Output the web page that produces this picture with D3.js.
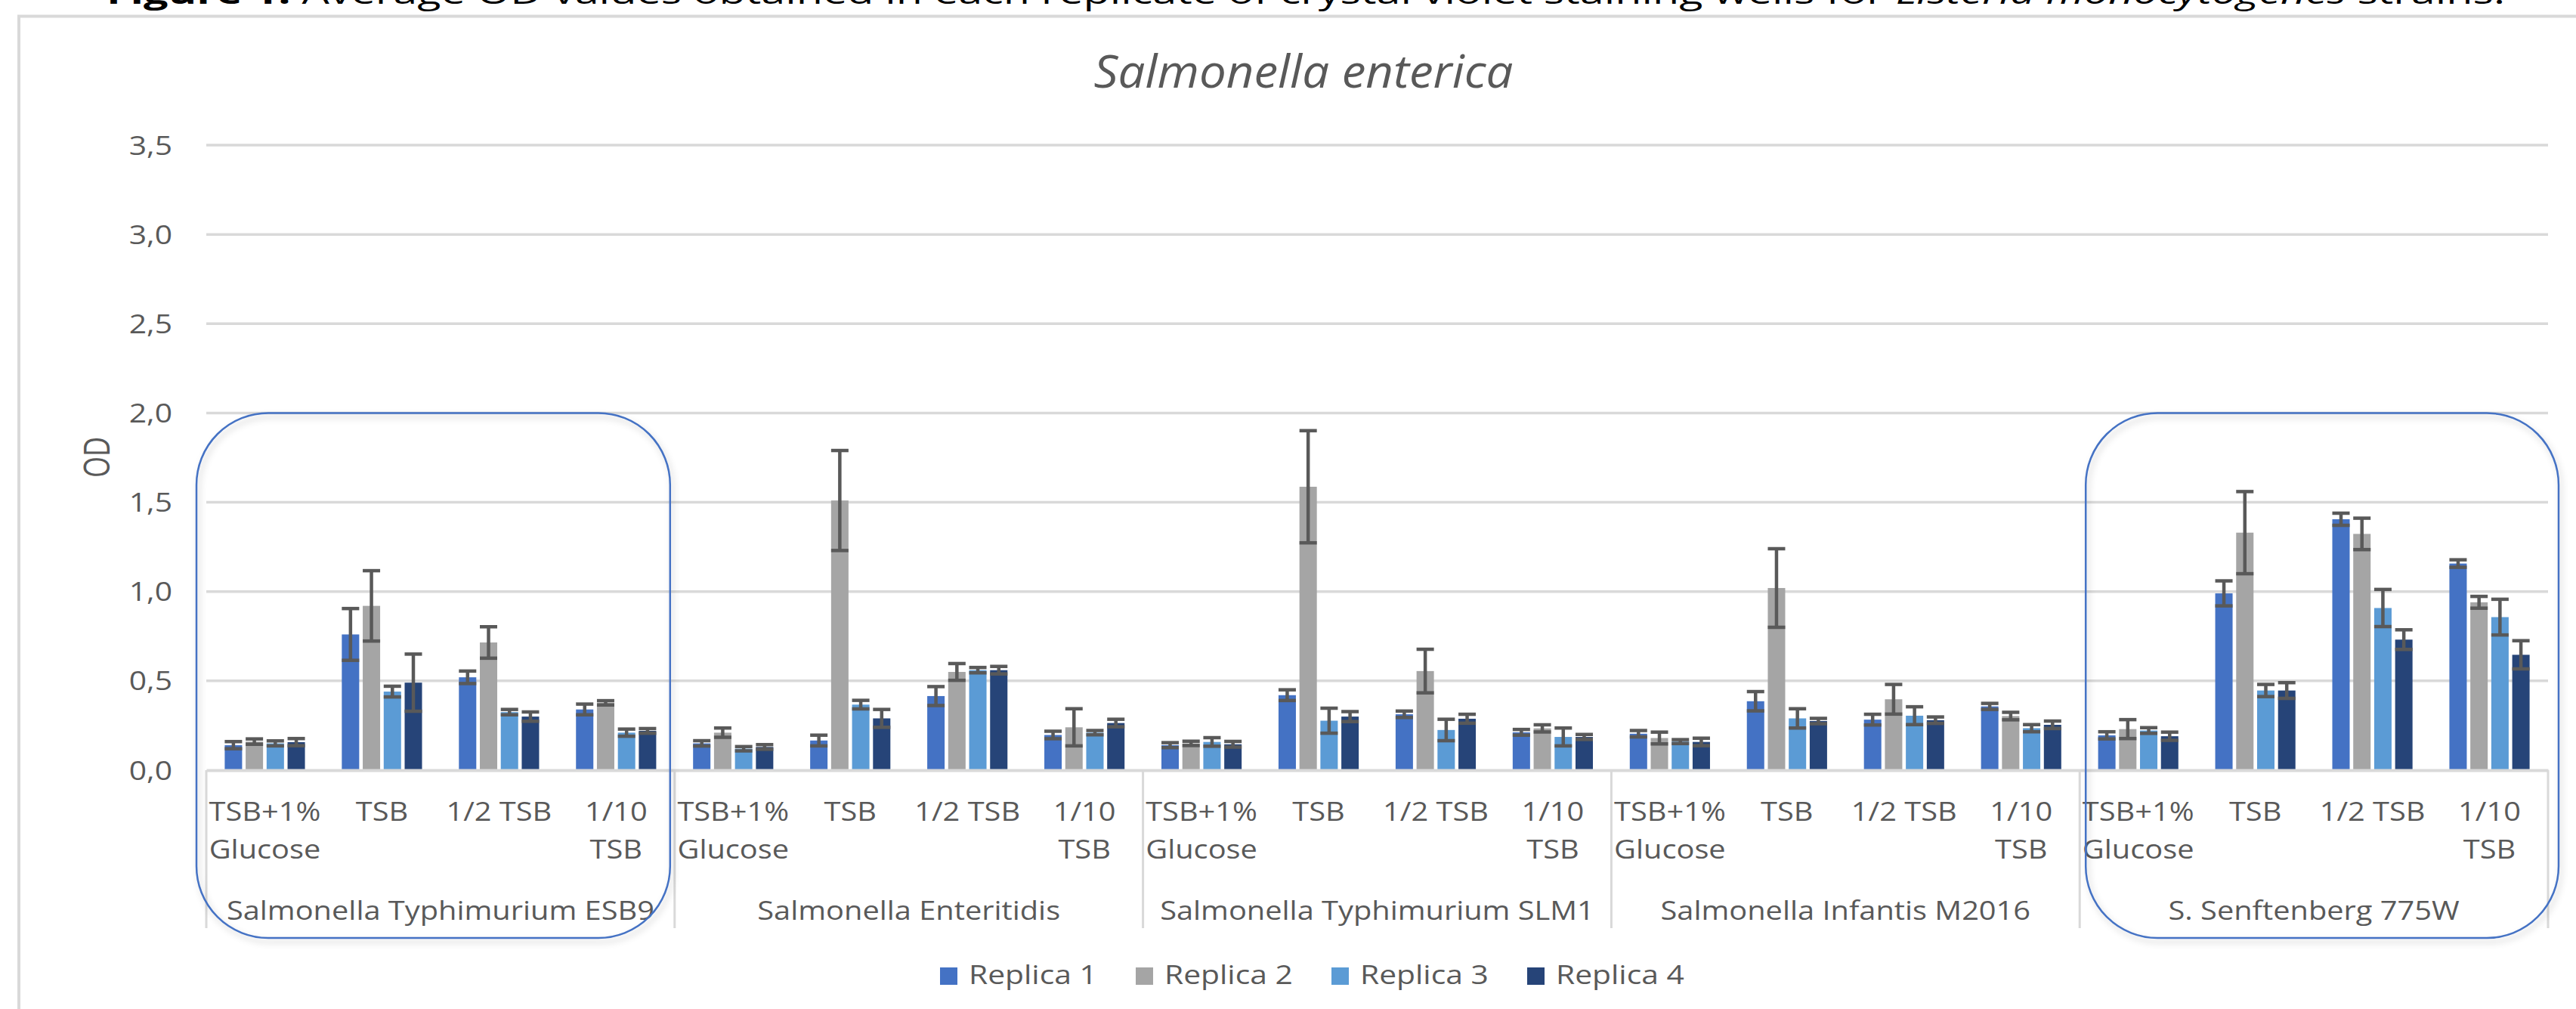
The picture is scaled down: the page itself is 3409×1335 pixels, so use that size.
<!DOCTYPE html>
<html>
<head>
<meta charset="utf-8">
<script src="https://cdn.jsdelivr.net/npm/d3@7"></script>
<style>
  html, body { margin: 0; padding: 0; background: #ffffff; }
  svg { display: block; }
  text { font-family: "Open Sans", "Noto Sans", sans-serif; }
</style>
</head>
<body>
<svg id="chart" width="3409" height="1335"></svg>
<script>
// ---- data -------------------------------------------------------------
const strains = [
  "Salmonella Typhimurium ESB9",
  "Salmonella Enteritidis",
  "Salmonella Typhimurium SLM1",
  "Salmonella Infantis M2016",
  "S. Senftenberg 775W"
];
// each medium label split into its wrapped lines
const media = [["TSB+1%", "Glucose"], ["TSB"], ["1/2 TSB"], ["1/10", "TSB"]];
const replicas = ["Replica 1", "Replica 2", "Replica 3", "Replica 4"];
const replicaColors = ["#4472C4", "#A5A5A5", "#5B9BD5", "#264478"];
const yTicks = [0, 0.5, 1, 1.5, 2, 2.5, 3, 3.5];

// mean OD, 4 media per strain, strains in order
const replica1 = [0.14, 0.76, 0.52, 0.34,   0.15, 0.166, 0.415, 0.197,  0.14, 0.42, 0.313, 0.212,  0.204, 0.386, 0.283, 0.357,  0.195, 0.99, 1.405, 1.157];
const replica2 = [0.16, 0.92, 0.715, 0.377, 0.21, 1.51, 0.55, 0.24,     0.15, 1.587, 0.555, 0.234,  0.18, 1.02, 0.397, 0.303,    0.23, 1.33, 1.323, 0.94];
const replica3 = [0.15, 0.44, 0.325, 0.21,  0.12, 0.367, 0.56, 0.21,    0.158, 0.277, 0.225, 0.186, 0.16, 0.29, 0.305, 0.235,    0.222, 0.446, 0.908, 0.857];
const replica4 = [0.157, 0.49, 0.30, 0.22,  0.13, 0.29, 0.56, 0.264,    0.145, 0.30, 0.288, 0.186,  0.158, 0.275, 0.28, 0.254,   0.19, 0.446, 0.731, 0.646];
// standard deviations
const err1 = [0.02, 0.145, 0.035, 0.03,   0.015, 0.03, 0.053, 0.021,   0.014, 0.03, 0.018, 0.016,   0.018, 0.054, 0.03, 0.017,   0.02, 0.07, 0.034, 0.021];
const err2 = [0.015, 0.197, 0.088, 0.012, 0.026, 0.28, 0.047, 0.104,   0.012, 0.314, 0.122, 0.02,   0.033, 0.22, 0.083, 0.021,   0.053, 0.23, 0.088, 0.033];
const err3 = [0.014, 0.03, 0.015, 0.02,   0.012, 0.024, 0.015, 0.012,  0.024, 0.07, 0.06, 0.05,     0.011, 0.054, 0.05, 0.02,    0.016, 0.034, 0.104, 0.1];
const err4 = [0.02, 0.16, 0.026, 0.013,   0.013, 0.05, 0.021, 0.021,   0.016, 0.028, 0.025, 0.014,  0.021, 0.015, 0.018, 0.021,  0.023, 0.044, 0.055, 0.079];

const means = [replica1, replica2, replica3, replica4];
const errs = [err1, err2, err3, err4];

// strains highlighted with a rounded frame
const highlighted = [0, 4];

// ---- layout -----------------------------------------------------------
const svg = d3.select("#chart");
const W = 3409, H = 1335;
const plot = { left: 273, right: 3372, top: 192, bottom: 1019 };
const grey = "#595959";
const gridGrey = "#D9D9D9";

// horizontal stretch used for all labels
function placeText(sel, x, y, sx) {
  sel.attr("x", 0).attr("y", 0)
     .attr("transform", `translate(${x},${y}) scale(${sx},1)`);
  return sel;
}

const defs = svg.append("defs");
const shadow = defs.append("filter").attr("id", "soft").attr("x", "-10%").attr("y", "-10%")
  .attr("width", "120%").attr("height", "120%");
shadow.append("feDropShadow").attr("dx", 3).attr("dy", 5).attr("stdDeviation", 4)
  .attr("flood-color", "#000").attr("flood-opacity", 0.22);

svg.append("rect").attr("width", W).attr("height", H).attr("fill", "#fff");

// caption line of the surrounding document (cut by the top edge)
const cap = svg.append("text").attr("x", 141).attr("y", 5)
  .attr("font-size", 40).attr("fill", "#000")
  .attr("textLength", 3174).attr("lengthAdjust", "spacingAndGlyphs");
cap.append("tspan").attr("font-weight", "bold").text("Figure 1.");
cap.append("tspan").text(" Average OD values obtained in each replicate of crystal violet staining wells for ");
cap.append("tspan").attr("font-style", "italic").text("Listeria monocytogenes");
cap.append("tspan").text(" strains.");

// chart area border
svg.append("path").attr("d", `M25,${H} V21.5 H${W}`)
  .attr("fill", "none").attr("stroke", gridGrey).attr("stroke-width", 4);

// ---- scales -----------------------------------------------------------
const catKeys = [];
strains.forEach((s, i) => media.forEach((m, j) => catKeys.push(i * 4 + j)));

const x = d3.scaleBand().domain(catKeys).range([plot.left, plot.right]).padding(0);
const xr = d3.scaleBand().domain(d3.range(4)).range([0, x.bandwidth()])
  .paddingInner(0.17).paddingOuter(0.88);
const y = d3.scaleLinear().domain([0, 3.5]).range([plot.bottom, plot.top]);

// ---- grid ---------------------------------------------------------------
svg.append("g").selectAll("line").data(yTicks.filter(d => d > 0)).join("line")
  .attr("x1", plot.left).attr("x2", plot.right)
  .attr("y1", d => y(d)).attr("y2", d => y(d))
  .attr("stroke", gridGrey).attr("stroke-width", 3.5);

// ---- y axis -------------------------------------------------------------
const yAxis = svg.append("g").attr("transform", `translate(${plot.left},0)`)
  .call(d3.axisLeft(y).tickValues(yTicks).tickSize(0)
    .tickFormat(d => d.toFixed(1).replace(".", ",")));
yAxis.select(".domain").remove();
yAxis.selectAll(".tick text").each(function () {
  const t = d3.select(this);
  t.attr("dy", null).attr("text-anchor", "end")
   .attr("font-size", 34).attr("fill", grey)
   .attr("font-family", "Open Sans");
  placeText(t, -45, 12, 1.2);
});

// axis title
svg.append("text").attr("text-anchor", "middle").attr("dominant-baseline", "central")
  .attr("font-size", 36).attr("fill", grey)
  .attr("transform", "translate(127,605) scale(1.3,1) rotate(-90)")
  .text("OD");

// chart title
placeText(svg.append("text").attr("text-anchor", "middle")
  .attr("font-size", 60).attr("font-style", "italic").attr("fill", grey)
  .text("Salmonella enterica"), 1725, 116, 1.06);

// ---- bars ---------------------------------------------------------------
const rows = [];
catKeys.forEach(k => replicas.forEach((r, ri) =>
  rows.push({ k, ri, v: means[ri][k], e: errs[ri][k] })));

svg.append("g").selectAll("rect").data(rows).join("rect")
  .attr("x", d => x(d.k) + xr(d.ri))
  .attr("width", xr.bandwidth())
  .attr("y", d => y(d.v))
  .attr("height", d => y(0) - y(d.v))
  .attr("fill", d => replicaColors[d.ri]);

// error bars
const eb = svg.append("g").attr("stroke", grey).attr("stroke-width", 4.5);
eb.selectAll("line.w").data(rows).join("line").attr("class", "w")
  .attr("x1", d => x(d.k) + xr(d.ri) + xr.bandwidth() / 2)
  .attr("x2", d => x(d.k) + xr(d.ri) + xr.bandwidth() / 2)
  .attr("y1", d => y(d.v - d.e)).attr("y2", d => y(d.v + d.e));
eb.selectAll("line.c").data(rows.flatMap(d => [
    { ...d, at: d.v + d.e }, { ...d, at: d.v - d.e }])).join("line").attr("class", "c")
  .attr("x1", d => x(d.k) + xr(d.ri))
  .attr("x2", d => x(d.k) + xr(d.ri) + xr.bandwidth())
  .attr("y1", d => y(d.at)).attr("y2", d => y(d.at));

// ---- x axis -------------------------------------------------------------
const xAxis = svg.append("g").attr("transform", `translate(0,${plot.bottom})`)
  .call(d3.axisBottom(x).tickSize(0).tickFormat(""));
xAxis.select(".domain").attr("stroke", gridGrey).attr("stroke-width", 4);

// group separators
const groupEdges = d3.range(strains.length + 1).map(i =>
  i < strains.length ? x(i * 4) : x(catKeys[catKeys.length - 1]) + x.bandwidth());
svg.append("g").selectAll("line").data(groupEdges).join("line")
  .attr("x1", d => d).attr("x2", d => d)
  .attr("y1", plot.bottom).attr("y2", 1228)
  .attr("stroke", gridGrey).attr("stroke-width", 3);

// medium labels
catKeys.forEach(k => {
  const lines = media[k % 4];
  lines.forEach((ln, li) => {
    placeText(svg.append("text").attr("text-anchor", "middle")
      .attr("font-size", 34).attr("fill", grey).text(ln),
      x(k) + x.bandwidth() / 2, 1086 + li * 50, 1.17);
  });
});

// strain labels
strains.forEach((s, i) => {
  const cx = (groupEdges[i] + groupEdges[i + 1]) / 2;
  placeText(svg.append("text").attr("text-anchor", "middle")
    .attr("font-size", 34).attr("fill", grey).text(s), cx, 1217, 1.17);
});

// ---- highlight frames -----------------------------------------------------
const framePad = { 0: [-13, -6], 4: [8, 14] };
svg.append("g").selectAll("rect").data(highlighted).join("rect")
  .attr("x", i => groupEdges[i] + framePad[i][0])
  .attr("width", i => (groupEdges[i + 1] + framePad[i][1]) - (groupEdges[i] + framePad[i][0]))
  .attr("y", y(2))
  .attr("height", 1241 - y(2))
  .attr("rx", 95).attr("ry", 95)
  .attr("fill", "none").attr("stroke", "#4472C4").attr("stroke-width", 2.5)
  .attr("filter", "url(#soft)");

// ---- legend -------------------------------------------------------------
const legend = svg.append("g");
replicas.forEach((r, i) => {
  const lx = 1244 + i * 259;
  legend.append("rect").attr("x", lx).attr("y", 1280).attr("width", 23).attr("height", 23)
    .attr("fill", replicaColors[i]);
  placeText(legend.append("text").attr("font-size", 34).attr("fill", grey).text(r),
    lx + 38, 1302, 1.2);
});
</script>
</body>
</html>
